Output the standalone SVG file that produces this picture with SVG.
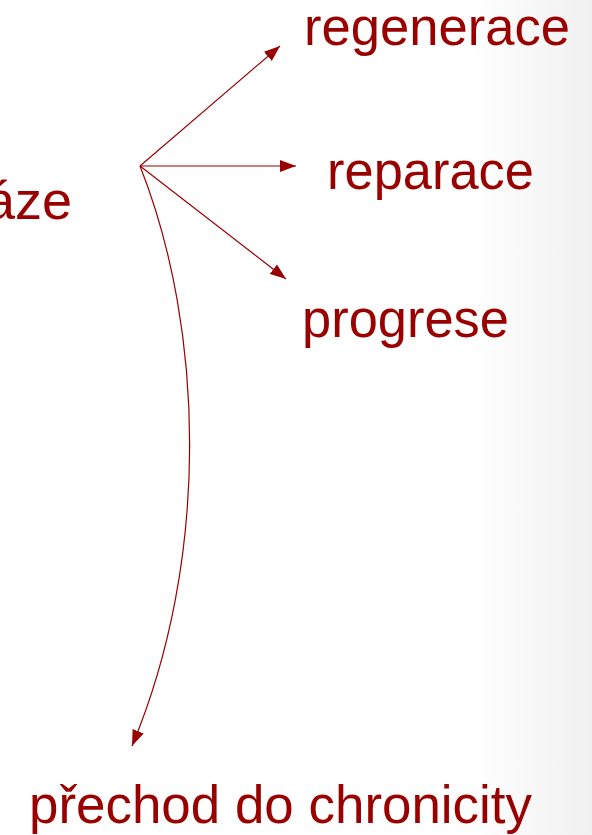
<svg xmlns="http://www.w3.org/2000/svg" width="592" height="835" viewBox="0 0 592 835">
<defs>
<linearGradient id="bg" x1="0" y1="0" x2="1" y2="0">
<stop offset="0" stop-color="#ffffff"/>
<stop offset="0.8" stop-color="#ffffff"/>
<stop offset="1" stop-color="#f0f0f0"/>
</linearGradient>
<marker id="ah" viewBox="0 0 16 12" refX="16" refY="6" markerWidth="16" markerHeight="12" markerUnits="userSpaceOnUse" orient="auto">
<path d="M0,0 L16,6 L0,12 Z" fill="#990000"/>
</marker>
<style>
.t{font-family:"Liberation Sans",Arial,sans-serif;fill:#990000;font-size:54px}
.c{stroke:#990000;stroke-width:1.2;fill:none;marker-end:url(#ah)}
</style>
</defs>
<rect width="592" height="835" fill="url(#bg)"/>
<g id="connectors">
<line class="c" x1="140" y1="166" x2="280" y2="46"/>
<line class="c" x1="140" y1="166" x2="296" y2="166"/>
<line class="c" x1="140" y1="166" x2="286" y2="279"/>
<path class="c" d="M140,166 C205,330 210,560 132,746"/>
</g>
<g id="faze"><text class="t" x="72" y="219" text-anchor="end">áze</text></g>
<g id="regenerace"><text class="t" x="304" y="45" textLength="266" lengthAdjust="spacingAndGlyphs">regenerace</text></g>
<g id="reparace"><text class="t" x="327" y="189" textLength="207" lengthAdjust="spacingAndGlyphs">reparace</text></g>
<g id="progrese"><text class="t" x="302" y="337" textLength="207" lengthAdjust="spacingAndGlyphs">progrese</text></g>
<g id="chronicity"><text class="t" x="29" y="823" textLength="503" lengthAdjust="spacingAndGlyphs">přechod do chronicity</text></g>
</svg>
